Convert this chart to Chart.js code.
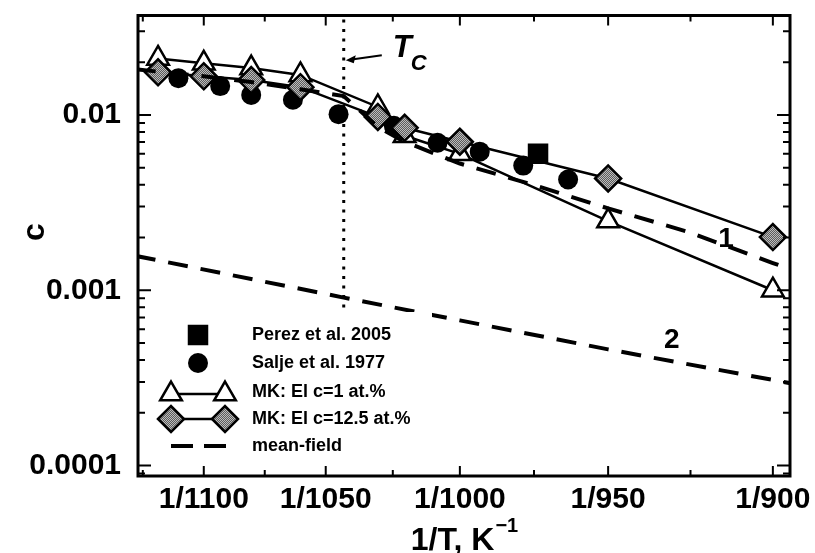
<!DOCTYPE html>
<html>
<head>
<meta charset="utf-8">
<script src="https://cdn.jsdelivr.net/npm/chart.js@4.4.1/dist/chart.umd.min.js"></script>
<style>
  html, body { margin: 0; padding: 0; background: #fff; }
  #wrap { width: 815px; height: 553px; }
</style>
</head>
<body>
<div id="wrap"><canvas id="chart" width="815" height="553"></canvas></div>
<script>
// temperatures in K, the x axis is 1/T
const tempMK = [1120, 1100, 1080, 1060, 1030, 1020, 1000, 950, 900];
const cMK1 = [0.0210, 0.0197, 0.0185, 0.0169, 0.0111, 0.0076, 0.0060, 0.00248, 0.00100];
const cMK125 = [0.0175, 0.0166, 0.0158, 0.0144, 0.00974, 0.00844, 0.00703, 0.00434, 0.00201];

const tempSalje = [1111, 1093, 1080, 1063, 1045, 1024, 1008, 993, 978, 963];
const cSalje = [0.0162, 0.0146, 0.0130, 0.0122, 0.0101, 0.00866, 0.00694, 0.00617, 0.00514, 0.00428];

const tempPerez = [973];
const cPerez = [0.0060];

const tempMF1 = [1130, 1100, 1080, 1060, 1043, 1030, 1020, 1000, 975, 950, 925, 900, 895];
const cMF1 = [0.0182, 0.0166, 0.0154, 0.0140, 0.0128, 0.00855, 0.00703, 0.00528, 0.00401, 0.00293, 0.00215, 0.00143, 0.00132];

const tempMF2 = [1130, 1043, 1000, 950, 895];
const cMF2 = [0.00157, 0.000908, 0.000673, 0.00046, 0.000295];

const tempTc = 1043;
const cTcLine = [0.035, 0.00008];

const xTickTemps = [1100, 1050, 1000, 950, 900];
const xTickLabels = ['1/1100', '1/1050', '1/1000', '1/950', '1/900'];
const yTickValues = [0.0001, 0.001, 0.01];
const yTickLabels = ['0.0001', '0.001', '0.01'];

const legendItems = ['Perez et al. 2005', 'Salje et al. 1977', 'MK: El c=1 at.%', 'MK: El c=12.5 at.%', 'mean-field'];

const FONT = "'Liberation Sans', Arial, Helvetica, sans-serif";
const toXY = (temps, vals) => temps.map((t, i) => ({ x: 1 / t, y: vals[i] }));

const canvas = document.getElementById('chart');
const mainCtx = canvas.getContext('2d');

// grey dithered fill of the diamonds
const tile = document.createElement('canvas');
tile.width = 2; tile.height = 2;
const tctx = tile.getContext('2d');
tctx.fillStyle = '#5c5c5c'; tctx.fillRect(0, 0, 2, 2);
tctx.fillStyle = '#bcbcbc'; tctx.fillRect(0, 0, 1, 1); tctx.fillRect(1, 1, 1, 1);
const greyPattern = mainCtx.createPattern(tile, 'repeat');

function drawMarker(ctx, style, x, y, r, fill, lw) {
  ctx.save();
  ctx.fillStyle = fill;
  ctx.strokeStyle = '#000';
  ctx.lineWidth = lw;
  ctx.beginPath();
  if (style === 'circle') {
    ctx.arc(x, y, r, 0, Math.PI * 2);
  } else if (style === 'rect') {
    const s = Math.SQRT1_2 * r;
    ctx.rect(x - s, y - s, 2 * s, 2 * s);
  } else if (style === 'triangle') {
    for (let k = 0; k < 3; k++) {
      const a = k * 2 * Math.PI / 3;
      const px = x + Math.sin(a) * r, py = y - Math.cos(a) * r;
      if (k === 0) ctx.moveTo(px, py); else ctx.lineTo(px, py);
    }
    ctx.closePath();
  } else if (style === 'rectRot') {
    ctx.moveTo(x - r, y); ctx.lineTo(x, y - r); ctx.lineTo(x + r, y); ctx.lineTo(x, y + r);
    ctx.closePath();
  }
  ctx.fill();
  if (lw > 0) ctx.stroke();
  ctx.restore();
}

// frame, inward ticks on all four sides, legend, annotations, axis titles
const decorPlugin = {
  id: 'decor',
  afterDatasetsDraw(chart) {
    const { ctx, chartArea: a, scales: { x, y } } = chart;
    ctx.save();

    // legend box
    ctx.fillStyle = '#fff';
    ctx.fillRect(150, 312, 282, 159);
    const lx = 198, tx = 252;
    const ly = [335, 363, 392, 419, 446];
    drawMarker(ctx, 'rect', lx, ly[0], 14.5, '#000', 0);
    drawMarker(ctx, 'circle', lx, ly[1], 10, '#000', 0);
    ctx.lineWidth = 2.5; ctx.strokeStyle = '#000';
    ctx.beginPath(); ctx.moveTo(171, ly[2] + 2); ctx.lineTo(225, ly[2] + 2); ctx.stroke();
    drawMarker(ctx, 'triangle', 171, ly[2] + 2, 12.5, '#fff', 2.5);
    drawMarker(ctx, 'triangle', 225, ly[2] + 2, 12.5, '#fff', 2.5);
    ctx.beginPath(); ctx.moveTo(171, ly[3]); ctx.lineTo(225, ly[3]); ctx.stroke();
    drawMarker(ctx, 'rectRot', 171, ly[3], 13, greyPattern, 2.5);
    drawMarker(ctx, 'rectRot', 225, ly[3], 13, greyPattern, 2.5);
    ctx.lineWidth = 4;
    ctx.beginPath();
    ctx.moveTo(171, ly[4]); ctx.lineTo(193, ly[4]);
    ctx.moveTo(204, ly[4]); ctx.lineTo(226, ly[4]);
    ctx.stroke();
    ctx.fillStyle = '#000';
    ctx.font = 'bold 18px ' + FONT;
    ctx.textBaseline = 'middle';
    ctx.textAlign = 'left';
    legendItems.forEach((t, i) => ctx.fillText(t, tx, ly[i]));

    // T_C label and arrow
    const tipX = x.getPixelForValue(1 / tempTc) + 2, tipY = y.getPixelForValue(0.0205);
    const tailX = x.getPixelForValue(1 / 1028.5), tailY = y.getPixelForValue(0.0219);
    ctx.lineWidth = 2;
    ctx.beginPath(); ctx.moveTo(tailX, tailY); ctx.lineTo(tipX + 6, tipY - 0.8); ctx.stroke();
    ctx.beginPath();
    ctx.moveTo(tipX, tipY); ctx.lineTo(tipX + 10, tipY - 5); ctx.lineTo(tipX + 8, tipY + 3);
    ctx.closePath(); ctx.fill();
    const tX = x.getPixelForValue(1 / 1024.4), tY = y.getPixelForValue(0.0213);
    ctx.textBaseline = 'alphabetic';
    ctx.font = 'italic bold 31px ' + FONT;
    ctx.fillText('T', tX, tY);
    ctx.font = 'italic bold 22px ' + FONT;
    ctx.fillText('C', tX + 18, tY + 13);

    // curve labels
    ctx.font = 'bold 28px ' + FONT;
    ctx.textAlign = 'center';
    ctx.textBaseline = 'middle';
    ctx.fillText('1', x.getPixelForValue(1 / 913.7), y.getPixelForValue(0.00196));
    ctx.fillText('2', x.getPixelForValue(1 / 930), y.getPixelForValue(0.000516));

    // ticks
    ctx.strokeStyle = '#000';
    ctx.lineWidth = 2;
    ctx.beginPath();
    const xMajor = xTickTemps.map(t => 1 / t);
    const xMinor = [xMajor[0] - (xMajor[1] - xMajor[0]) / 2];
    for (let i = 0; i < xMajor.length - 1; i++) xMinor.push((xMajor[i] + xMajor[i + 1]) / 2);
    const vTick = (v, len) => {
      const px = x.getPixelForValue(v);
      if (px < a.left || px > a.right) return;
      ctx.moveTo(px, a.bottom); ctx.lineTo(px, a.bottom - len);
      ctx.moveTo(px, a.top); ctx.lineTo(px, a.top + len);
    };
    xMajor.forEach(v => vTick(v, 10));
    xMinor.forEach(v => vTick(v, 6));
    const hTick = (v, len) => {
      const py = y.getPixelForValue(v);
      if (py < a.top || py > a.bottom) return;
      ctx.moveTo(a.left, py); ctx.lineTo(a.left + len, py);
      ctx.moveTo(a.right, py); ctx.lineTo(a.right - len, py);
    };
    for (let e = -5; e <= -2; e++) {
      for (let m = 1; m <= 9; m++) hTick(m * Math.pow(10, e), m === 1 ? 13 : 7);
    }
    ctx.stroke();

    // frame
    ctx.lineWidth = 3;
    ctx.strokeRect(a.left, a.top, a.right - a.left, a.bottom - a.top);

    // axis titles
    ctx.fillStyle = '#000';
    ctx.textAlign = 'left';
    ctx.textBaseline = 'alphabetic';
    ctx.font = 'bold 32px ' + FONT;
    const main = '1/T, K';
    const w1 = ctx.measureText(main).width;
    ctx.font = 'bold 20px ' + FONT;
    const sup = '\u22121';
    const w2 = ctx.measureText(sup).width;
    const cx = (a.left + a.right) / 2;
    const start = cx - (w1 + w2) / 2;
    ctx.font = 'bold 32px ' + FONT;
    ctx.fillText(main, start, 550);
    ctx.font = 'bold 20px ' + FONT;
    ctx.fillText(sup, start + w1 + 1, 532);

    ctx.translate(35, 232);
    ctx.rotate(-Math.PI / 2);
    ctx.textAlign = 'center';
    ctx.textBaseline = 'middle';
    ctx.font = 'bold 32px ' + FONT;
    ctx.fillText('c', 0, 0);
    ctx.restore();
  }
};

new Chart(canvas, {
  type: 'line',
  data: {
    datasets: [
      {
        label: 'mean-field 1',
        data: toXY(tempMF1, cMF1),
        borderColor: '#000',
        borderWidth: 4,
        borderDash: [20, 13],
        pointRadius: 0,
        fill: false,
        order: 0
      },
      {
        label: 'mean-field 2',
        data: toXY(tempMF2, cMF2),
        borderColor: '#000',
        borderWidth: 4,
        borderDash: [20, 13],
        pointRadius: 0,
        fill: false,
        order: 0
      },
      {
        label: 'MK: El c=12.5 at.%',
        data: toXY(tempMK, cMK125),
        borderColor: '#000',
        borderWidth: 2.5,
        pointStyle: 'rectRot',
        pointRadius: 13,
        pointBackgroundColor: greyPattern,
        pointBorderColor: '#000',
        pointBorderWidth: 2.5,
        fill: false,
        order: 1
      },
      {
        label: 'Salje et al. 1977',
        data: toXY(tempSalje, cSalje),
        showLine: false,
        pointStyle: 'circle',
        pointRadius: 10,
        pointBackgroundColor: '#000',
        pointBorderColor: '#000',
        pointBorderWidth: 0,
        order: 2
      },
      {
        label: 'Perez et al. 2005',
        data: toXY(tempPerez, cPerez),
        showLine: false,
        pointStyle: 'rect',
        pointRadius: 14.5,
        pointBackgroundColor: '#000',
        pointBorderColor: '#000',
        pointBorderWidth: 0,
        order: 2
      },
      {
        label: 'MK: El c=1 at.%',
        data: toXY(tempMK, cMK1),
        borderColor: '#000',
        borderWidth: 2.5,
        pointStyle: 'triangle',
        pointRadius: 12.5,
        pointBackgroundColor: '#fff',
        pointBorderColor: '#000',
        pointBorderWidth: 2.5,
        fill: false,
        order: 3
      },
      {
        label: 'Tc',
        data: cTcLine.map(c => ({ x: 1 / tempTc, y: c })),
        borderColor: '#000',
        borderWidth: 3,
        borderDash: [3, 6.5],
        pointRadius: 0,
        fill: false,
        order: 4
      }
    ]
  },
  options: {
    responsive: false,
    animation: false,
    events: [],
    layout: { padding: { top: 13, right: 25, left: 0, bottom: 0 } },
    plugins: {
      legend: { display: false },
      tooltip: { enabled: false }
    },
    scales: {
      x: {
        type: 'linear',
        min: 1 / 1129,
        max: 1 / 895.1,
        grid: { display: false },
        border: { display: false },
        afterFit: (scale) => { scale.height = 77; scale.paddingLeft = 0; scale.paddingRight = 0; },
        afterBuildTicks: (scale) => { scale.ticks = xTickTemps.map(t => ({ value: 1 / t })); },
        ticks: {
          autoSkip: false,
          maxRotation: 0,
          padding: -2,
          color: '#000',
          font: { family: FONT, size: 30, weight: 'bold' },
          callback: (v, i) => xTickLabels[i]
        }
      },
      y: {
        type: 'logarithmic',
        min: 0.0000872,
        max: 0.0369,
        grid: { display: false },
        border: { display: false },
        afterFit: (scale) => { scale.width = 138; scale.paddingTop = 0; scale.paddingBottom = 0; },
        afterBuildTicks: (scale) => { scale.ticks = yTickValues.map(v => ({ value: v })); },
        ticks: {
          autoSkip: false,
          padding: 9,
          color: '#000',
          font: { family: FONT, size: 30, weight: 'bold' },
          callback: (v, i) => yTickLabels[i]
        }
      }
    }
  },
  plugins: [decorPlugin]
});
</script>
</body>
</html>
